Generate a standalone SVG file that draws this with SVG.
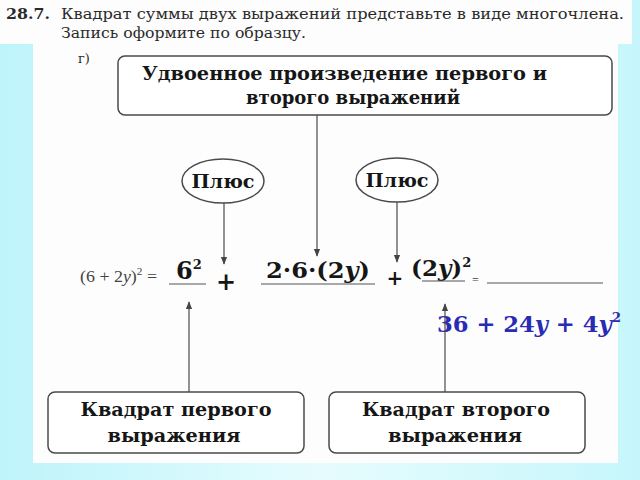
<svg xmlns="http://www.w3.org/2000/svg" width="640" height="480" viewBox="0 0 640 480">
<defs>
<linearGradient id="bg" x1="0" y1="0" x2="1" y2="0">
<stop offset="0" stop-color="#bdf4fa"/>
<stop offset="0.5" stop-color="#e6fcfe"/>
<stop offset="1" stop-color="#c6f6fb"/>
</linearGradient>
<marker id="ah" viewBox="0 0 10 10" refX="9" refY="5" markerWidth="8" markerHeight="8" markerUnits="userSpaceOnUse" orient="auto">
<path d="M0,1 L10,5 L0,9 z" fill="#444"/>
</marker>
<style>
.box{fill:#fff;stroke:#4a4a4a;stroke-width:1.5}
.lbl{font-family:"DejaVu Serif","Liberation Serif",serif;font-weight:bold;fill:#161616}
.hdr{font-family:"DejaVu Serif","Liberation Serif",serif;fill:#2a2a2a}
.eq{font-family:"DejaVu Serif","Liberation Serif",serif;font-weight:bold;fill:#161616}
.small{font-family:"Liberation Serif",serif;fill:#444}
.con{stroke:#4a4a4a;stroke-width:1.2;fill:none}
.ul{stroke:#555;stroke-width:1.2}
</style>
</defs>
<rect x="0" y="0" width="640" height="480" fill="url(#bg)"/>
<rect x="0" y="0" width="632" height="44" fill="#fdfdfd"/>
<rect x="33" y="44" width="585" height="419" fill="#fdfdfd"/>

<g id="header">
<text class="hdr" x="6" y="19" font-size="14.5" font-weight="bold" textLength="44" lengthAdjust="spacingAndGlyphs">28.7.</text>
<text class="hdr" x="61" y="19" font-size="14.5" textLength="563" lengthAdjust="spacingAndGlyphs">Квадрат суммы двух выражений представьте в виде многочлена.</text>
<text class="hdr" x="61" y="38" font-size="14.5" textLength="245" lengthAdjust="spacingAndGlyphs">Запись оформите по образцу.</text>
<text class="hdr" x="78" y="63" font-size="13">г)</text>
</g>

<g id="top-box">
<rect class="box" x="118" y="56" width="494" height="59" rx="7"/>
<text class="lbl" x="142" y="80" font-size="19" textLength="405" lengthAdjust="spacingAndGlyphs">Удвоенное произведение первого и</text>
<text class="lbl" x="246" y="104" font-size="19" textLength="214" lengthAdjust="spacingAndGlyphs">второго выражений</text>
</g>

<g id="plus-1">
<ellipse class="box" cx="223" cy="181" rx="41" ry="22"/>
<text class="lbl" x="223" y="188" font-size="19" text-anchor="middle" textLength="63" lengthAdjust="spacingAndGlyphs">Плюс</text>
</g>

<g id="plus-2">
<ellipse class="box" cx="397" cy="180" rx="41" ry="22"/>
<text class="lbl" x="397" y="187" font-size="19" text-anchor="middle" textLength="63" lengthAdjust="spacingAndGlyphs">Плюс</text>
</g>

<g id="equation">
<text class="small" x="80" y="282" font-size="16" textLength="77" lengthAdjust="spacingAndGlyphs">(6 + 2<tspan font-style="italic">y</tspan>)<tspan font-size="10" dy="-7">2</tspan><tspan dy="7"> =</tspan></text>
<text class="eq" x="176" y="279" font-size="24">6<tspan font-size="13" dy="-10">2</tspan></text>
<line class="ul" x1="169" y1="284" x2="206" y2="284"/>
<text class="eq" x="226" y="290" font-size="24" text-anchor="middle">+</text>
<text class="eq" x="266" y="278" font-size="23" textLength="104" lengthAdjust="spacingAndGlyphs">2·6·(2<tspan font-style="italic">y</tspan>)</text>
<line class="ul" x1="261" y1="284" x2="375" y2="284"/>
<text class="eq" x="395" y="285" font-size="20" text-anchor="middle">+</text>
<text class="eq" x="411" y="276" font-size="23">(2<tspan font-style="italic">y</tspan>)<tspan font-size="13" dy="-9">2</tspan></text>
<line class="ul" x1="422" y1="281" x2="465" y2="281"/>
<text class="small" x="472" y="284" font-size="12">=</text>
<line class="ul" x1="487" y1="283" x2="603" y2="283"/>
</g>

<g id="answer">
<text x="437" y="332" font-family="DejaVu Serif, Liberation Serif, serif" font-weight="bold" font-size="22" fill="#2a2ab5" textLength="184" lengthAdjust="spacingAndGlyphs">36 + 24<tspan font-style="italic">y</tspan> + 4<tspan font-style="italic">y</tspan><tspan font-size="13" dy="-10">2</tspan></text>
</g>

<g id="bottom-left">
<rect class="box" x="48" y="392" width="256" height="61" rx="7"/>
<text class="lbl" x="176" y="416" font-size="19" text-anchor="middle" textLength="191" lengthAdjust="spacingAndGlyphs">Квадрат первого</text>
<text class="lbl" x="174" y="442" font-size="19" text-anchor="middle" textLength="133" lengthAdjust="spacingAndGlyphs">выражения</text>
</g>

<g id="bottom-right">
<rect class="box" x="329" y="392" width="256" height="61" rx="7"/>
<text class="lbl" x="456" y="416" font-size="19" text-anchor="middle" textLength="188" lengthAdjust="spacingAndGlyphs">Квадрат второго</text>
<text class="lbl" x="455" y="442" font-size="19" text-anchor="middle" textLength="134" lengthAdjust="spacingAndGlyphs">выражения</text>
</g>

<g id="connectors">
<line class="con" x1="317" y1="115" x2="317" y2="256" marker-end="url(#ah)"/>
<line class="con" x1="224" y1="203" x2="224" y2="264" marker-end="url(#ah)"/>
<line class="con" x1="397" y1="202" x2="397" y2="262" marker-end="url(#ah)"/>
<line class="con" x1="189" y1="392" x2="189" y2="302" marker-end="url(#ah)"/>
<line class="con" x1="445" y1="392" x2="445" y2="304" marker-end="url(#ah)"/>
</g>
</svg>
